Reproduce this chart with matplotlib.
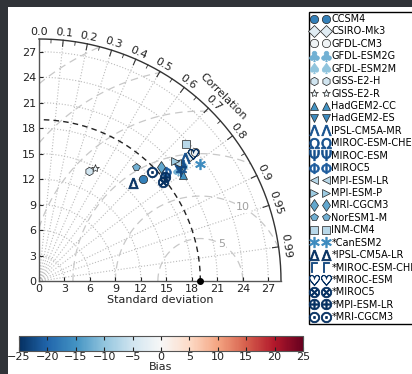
import numpy as np
import matplotlib
matplotlib.use("Agg")
import matplotlib.pyplot as plt
from matplotlib.patches import Rectangle
from matplotlib.colors import Normalize
import matplotlib.colorbar as mcolorbar

# ---------------- data ----------------
models = ["CCSM4", "CSIRO-Mk3", "GFDL-CM3", "GFDL-ESM2G", "GFDL-ESM2M",
          "GISS-E2-H", "GISS-E2-R", "HadGEM2-CC", "HadGEM2-ES", "IPSL-CM5A-MR",
          "MIROC-ESM-CHEM", "MIROC-ESM", "MIROC5", "MPI-ESM-LR", "MPI-ESM-P",
          "MRI-CGCM3", "NorESM1-M", "INM-CM4", "*CanESM2", "*IPSL-CM5A-LR",
          "*MIROC-ESM-CHEM", "*MIROC-ESM", "*MIROC5", "*MPI-ESM-LR", "*MRI-CGCM3"]
std_dev = [17.11, 23.15, 23.87, 20.99, 21.76,
           14.19, 14.85, 21.02, 21.21, 22.50,
           21.41, 21.45, 19.72, 21.42, 21.33,
           19.67, 17.59, 23.63, 23.40, 16.05,
           21.32, 23.51, 18.71, 19.32, 18.46]
correlation = [0.713, 0.769, 0.771, 0.781, 0.777,
               0.416, 0.444, 0.804, 0.783, 0.764,
               0.780, 0.769, 0.761, 0.761, 0.750,
               0.732, 0.648, 0.732, 0.808, 0.692,
               0.793, 0.770, 0.780, 0.771, 0.720]
bias = [-17, -3, -1, -12, -10,
        -5, -2, -15, -16, -22,
        -22, -22, -21, -7, -9,
        -13, -12, -7, -16, -25,
        -23, -25, -25, -25, -25]
markers = ["o", "D", "o", r"$\clubsuit$", r"$\spadesuit$",
           "h", "*", "^", "v", r"$\Lambda$",
           r"$\Omega$", r"$\Psi$", r"$\Phi$", "<", ">",
           "d", "p", "s", r"$\ast$", r"$\Delta$",
           r"$\Gamma$", r"$\heartsuit$", r"$\otimes$", r"$\oplus$", r"$\odot$"]

ref_std = 19.0
rmax = 28.5
std_ticks = [0, 3, 6, 9, 12, 15, 18, 21, 24, 27]
corr_ticks = [0.0, 0.1, 0.2, 0.3, 0.4, 0.5, 0.6, 0.7, 0.8, 0.9, 0.95, 0.99]
rms_levels = [5, 10, 15, 20, 25, 30, 35, 40]
rms_labels = [5, 10]
bias_ticks = [-25, -20, -15, -10, -5, 0, 5, 10, 15, 20, 25]

# ---------------- figure ----------------
W, H = 412, 374
fig = plt.figure(figsize=(W / 100, H / 100), dpi=100)
fig.patch.set_facecolor("#303338")
fig.add_artist(Rectangle((8 / W, 0), 1, 1 - 7 / H, transform=fig.transFigure,
                         facecolor="white", edgecolor="none", zorder=-10))

ax = fig.add_axes([39 / W, 93 / H, 242 / W, 242 / H])
ax.set_xlim(0, rmax)
ax.set_ylim(0, rmax)
ax.set_aspect("equal")
ax.patch.set_alpha(0)
for s in ["top", "right"]:
    ax.spines[s].set_visible(False)
for s in ["left", "bottom"]:
    ax.spines[s].set_color("#555555")
    ax.spines[s].set_linewidth(1.0)
ax.set_xticks(std_ticks)
ax.set_yticks(std_ticks)
ax.tick_params(direction="in", length=3, labelsize=8, colors="#222222", pad=2)
ax.set_xlabel("Standard deviation", fontsize=8, color="#222222", labelpad=1)

# outer arc
th = np.linspace(0, np.pi / 2, 300)
ax.plot(rmax * np.cos(th), rmax * np.sin(th), color="#333333", lw=1.0, clip_on=False)

# dotted std arcs
for r in std_ticks[1:]:
    ax.plot(r * np.cos(th), r * np.sin(th), color="#bbbbbb", lw=0.8, ls=":", zorder=1)
# radial dotted lines + correlation labels
for c in corr_ticks:
    a = np.arccos(c)
    if 0 < c < 1:
        ax.plot([0, rmax * np.cos(a)], [0, rmax * np.sin(a)], color="#bbbbbb",
                lw=0.8, ls=":", zorder=1)
    ax.plot([rmax * 0.975 * np.cos(a), rmax * np.cos(a)],
            [rmax * 0.975 * np.sin(a), rmax * np.sin(a)], color="#333333", lw=0.8,
            clip_on=False)
    rl = rmax * 1.03
    lab = ("%.2f" % c) if c in (0.95, 0.99) else "%.1f" % c
    ax.text(rl * np.cos(a), rl * np.sin(a), lab, fontsize=8, color="#222222",
            rotation=np.degrees(a) - 90, ha="center", va="center",
            rotation_mode="anchor", clip_on=False)
# minor ticks
for c in np.arange(0.05, 0.95, 0.1):
    a = np.arccos(c)
    ax.plot([rmax * 0.985 * np.cos(a), rmax * np.cos(a)],
            [rmax * 0.985 * np.sin(a), rmax * np.sin(a)], color="#333333", lw=0.6,
            clip_on=False)
ac = np.radians(45)
ax.text(rmax * 1.075 * np.cos(ac), rmax * 1.075 * np.sin(ac), "Correlation",
        fontsize=8, color="#222222", rotation=-45, ha="center", va="center",
        rotation_mode="anchor", clip_on=False)

# RMS contours
xg, yg = np.meshgrid(np.linspace(0, rmax, 400), np.linspace(0, rmax, 400))
rms = np.hypot(xg - ref_std, yg)
rms = np.ma.masked_where(np.hypot(xg, yg) > rmax, rms)
ax.contour(xg, yg, rms, levels=rms_levels, colors="#c8c8c8", linewidths=0.9,
           linestyles=[(0, (6, 4))], zorder=1)
for L in rms_labels:
    ang = np.radians(60)
    ax.text(ref_std + L * np.cos(ang), L * np.sin(ang), str(L), fontsize=8,
            color="#a0a0a0", ha="center", va="center", zorder=2,
            bbox=dict(facecolor="white", edgecolor="none", pad=0.5))

# reference std dashed arc and point
ax.plot(ref_std * np.cos(th), ref_std * np.sin(th), color="#222222", lw=1.0,
        ls=(0, (4, 3)), zorder=2)
ax.plot([ref_std], [0], "o", color="black", ms=4, clip_on=False, zorder=5)

# model points
cmap = plt.get_cmap("RdBu_r")
norm = Normalize(-25, 25)
handles = []
for name, s, c, b, m in zip(models, std_dev, correlation, bias, markers):
    a = np.arccos(c)
    col = cmap(norm(b))
    is_text = m.startswith("$")
    h, = ax.plot([s * np.cos(a)], [s * np.sin(a)], ls="none", marker=m,
                 ms=7.5 if is_text else 6,
                 mfc=col, mec=col if is_text else "#222222",
                 mew=0.6 if is_text else 0.5,
                 zorder=6, label=name)
    handles.append(h)

fig.legend(handles=handles, labels=models, loc="upper left",
           bbox_to_anchor=(309 / W, 1 - 12 / H), numpoints=2, fontsize=7,
           frameon=True, fancybox=False, edgecolor="black", framealpha=1,
           borderpad=0.2, labelspacing=0.25, handlelength=1.8, handletextpad=0.3,
           borderaxespad=0)

# colorbar
cax = fig.add_axes([19 / W, 23 / H, 284 / W, 15 / H])
cb = mcolorbar.ColorbarBase(cax, cmap=cmap, norm=norm, orientation="horizontal",
                            ticks=bias_ticks)
cb.ax.tick_params(direction="in", length=3, labelsize=8, colors="#222222",
                  top=True, pad=1)
cb.set_label("Bias", fontsize=8, color="#222222", labelpad=0)
cb.outline.set_edgecolor("#555555")

fig.savefig("out.png", dpi=100, facecolor=fig.get_facecolor())
